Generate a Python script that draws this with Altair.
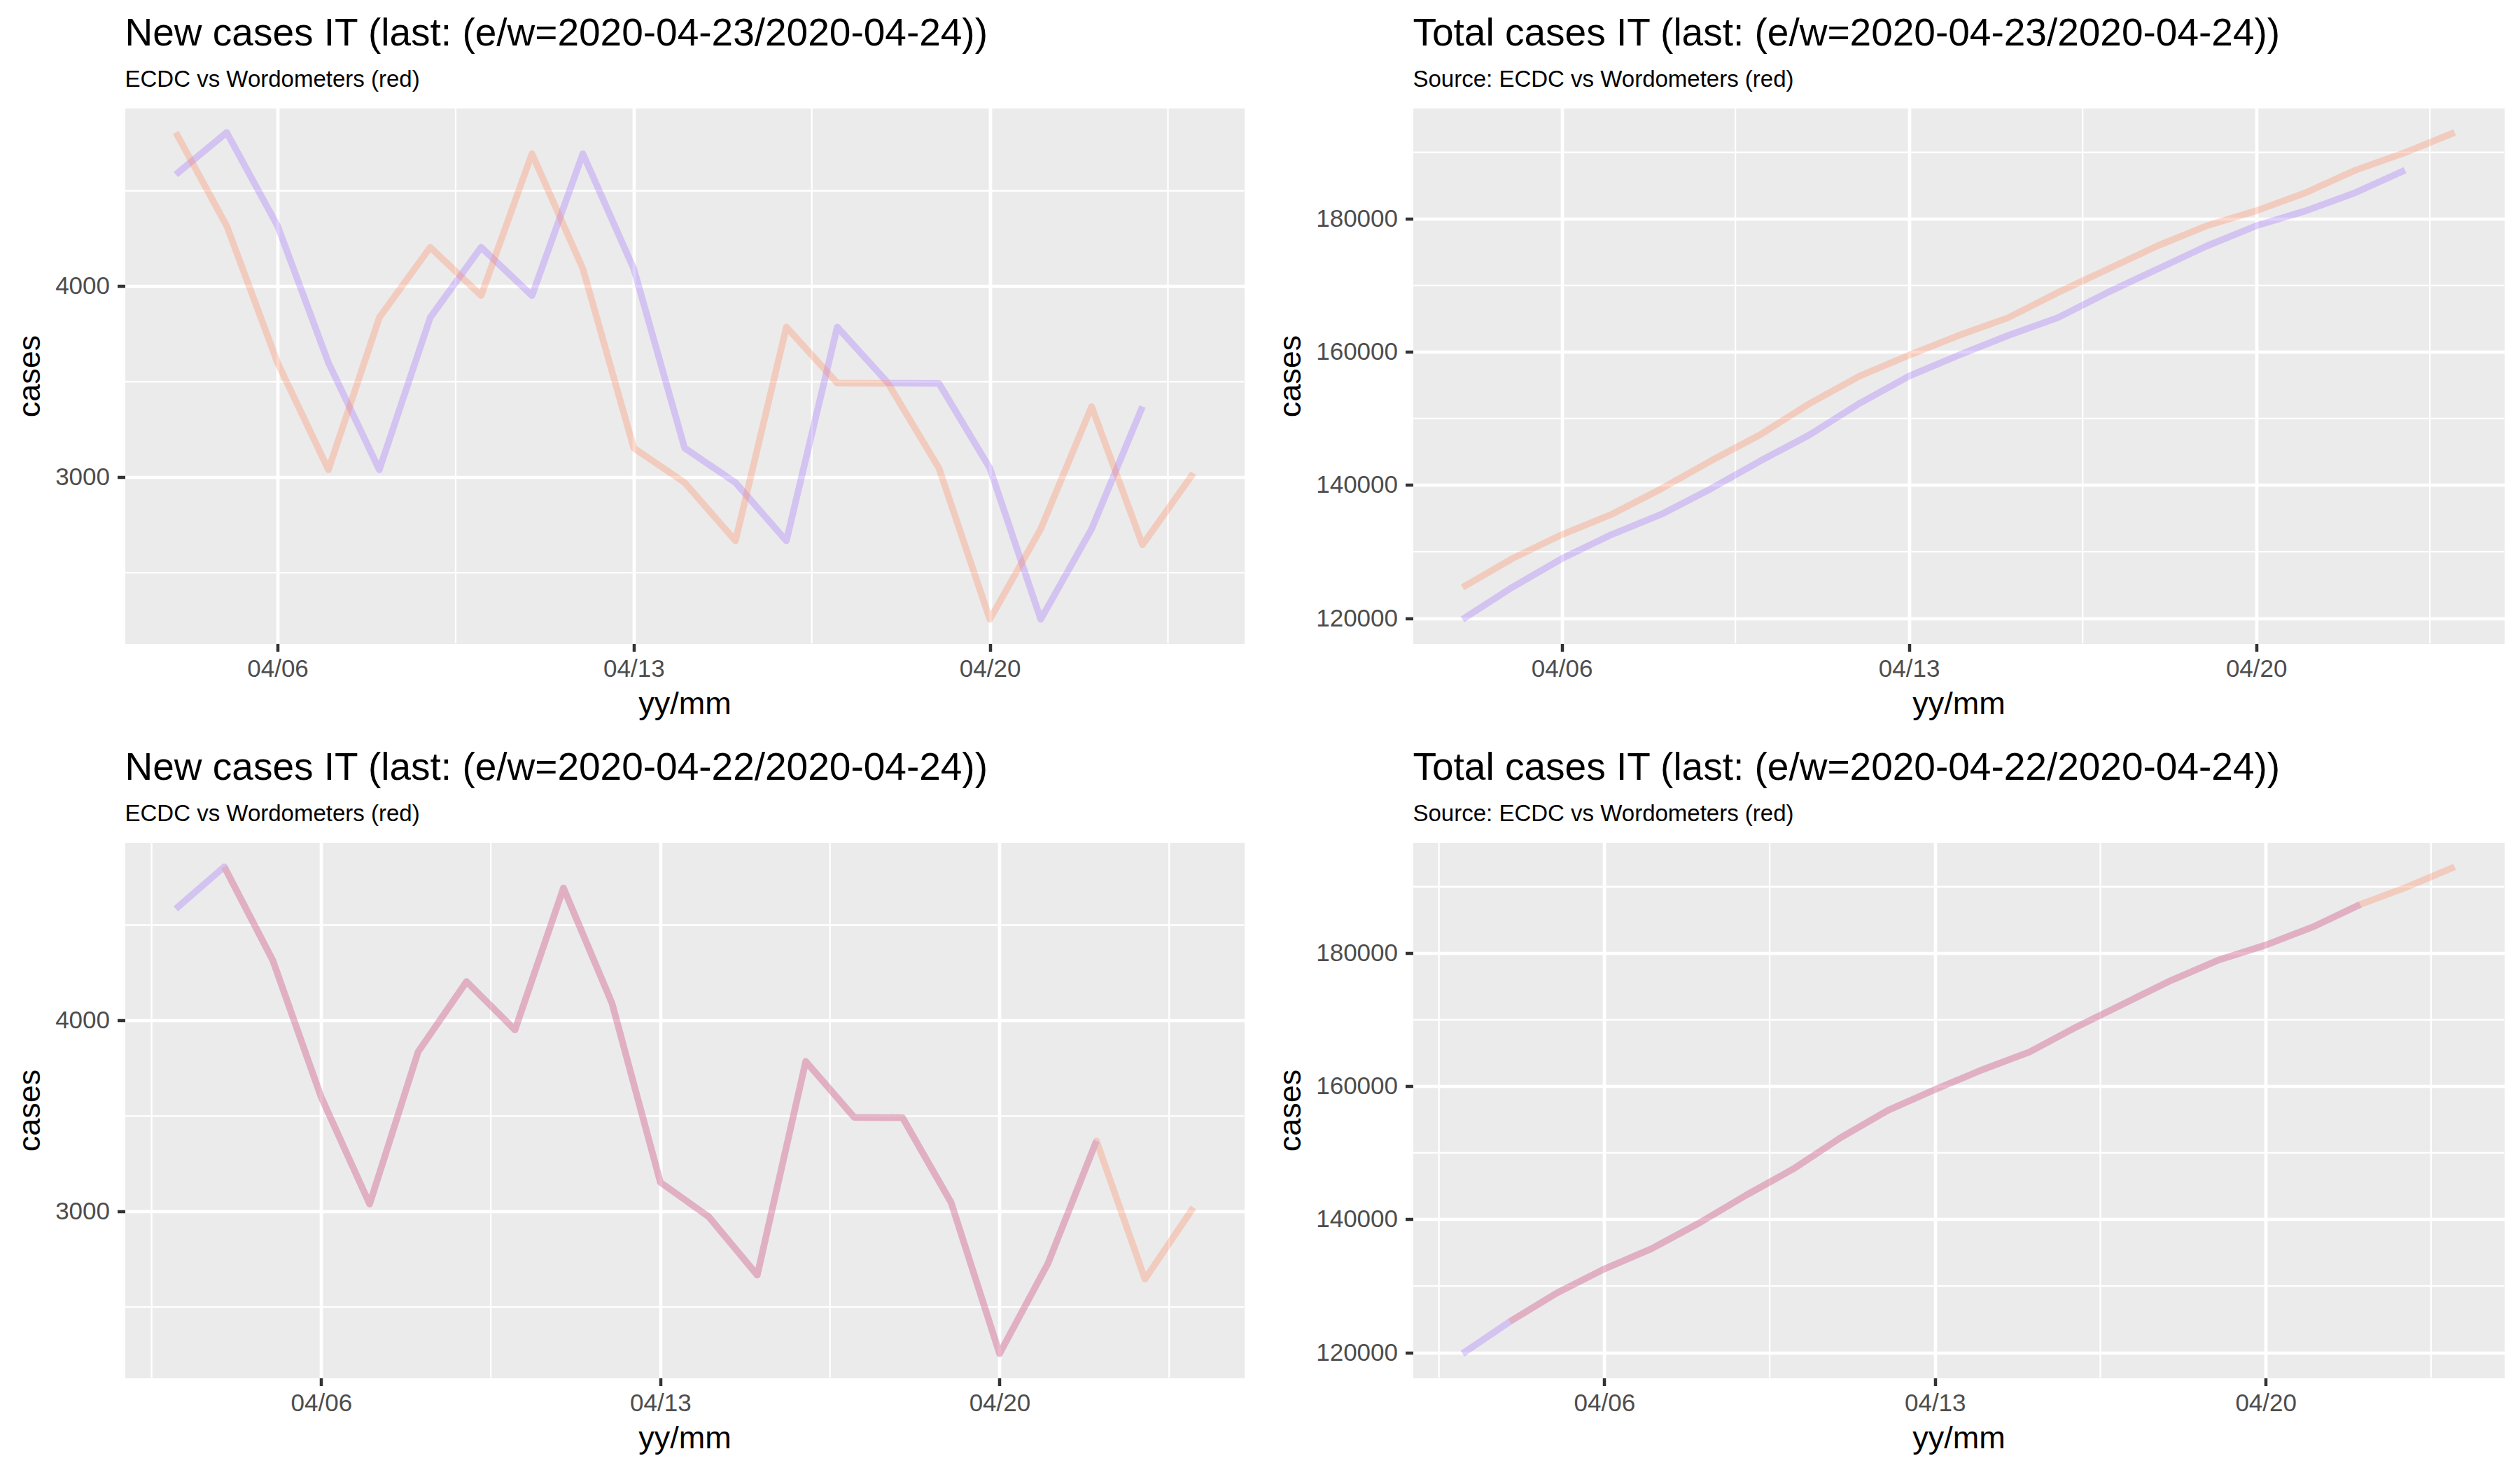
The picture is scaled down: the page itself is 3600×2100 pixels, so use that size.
import altair as alt
import pandas as pd

FONT = "Liberation Sans"
PURPLE = "#9B66FF"
ORANGE = "#FF8455"

# Worldometers (red) dates and values
wm_dates = ["2020-04-04", "2020-04-05", "2020-04-06", "2020-04-07", "2020-04-08",
            "2020-04-09", "2020-04-10", "2020-04-11", "2020-04-12", "2020-04-13",
            "2020-04-14", "2020-04-15", "2020-04-16", "2020-04-17", "2020-04-18",
            "2020-04-19", "2020-04-20", "2020-04-21", "2020-04-22", "2020-04-23",
            "2020-04-24"]
wm_new = [4805, 4316, 3599, 3039, 3836, 4204, 3951, 4694, 4092, 3153, 2972,
          2667, 3786, 3493, 3491, 3047, 2256, 2729, 3370, 2646, 3021]
wm_total = [124632, 128948, 132547, 135586, 139422, 143626, 147577, 152271,
            156363, 159516, 162488, 165155, 168941, 172434, 175925, 178972,
            181228, 183957, 187327, 189973, 192994]

# ECDC dates (two alignments) and values
ecdc_dates_a = ["2020-04-04", "2020-04-05", "2020-04-06", "2020-04-07", "2020-04-08",
                "2020-04-09", "2020-04-10", "2020-04-11", "2020-04-12", "2020-04-13",
                "2020-04-14", "2020-04-15", "2020-04-16", "2020-04-17", "2020-04-18",
                "2020-04-19", "2020-04-20", "2020-04-21", "2020-04-22", "2020-04-23"]
ecdc_dates_b = ["2020-04-03", "2020-04-04", "2020-04-05", "2020-04-06", "2020-04-07",
                "2020-04-08", "2020-04-09", "2020-04-10", "2020-04-11", "2020-04-12",
                "2020-04-13", "2020-04-14", "2020-04-15", "2020-04-16", "2020-04-17",
                "2020-04-18", "2020-04-19", "2020-04-20", "2020-04-21", "2020-04-22"]
ecdc_new = [4585, 4805, 4316, 3599, 3039, 3836, 4204, 3951, 4694, 4092, 3153,
            2972, 2667, 3786, 3493, 3491, 3047, 2256, 2729, 3370]
ecdc_total = [119827, 124632, 128948, 132547, 135586, 139422, 143626, 147577,
              152271, 156363, 159516, 162488, 165155, 168941, 172434, 175925,
              178972, 181228, 183957, 187327]

x_major = ["2020-04-06", "2020-04-13", "2020-04-20"]
x_minor = ["2020-04-02T12:00:00Z", "2020-04-09T12:00:00Z",
           "2020-04-16T12:00:00Z", "2020-04-23T12:00:00Z"]
new_major = [3000, 4000]
new_minor = [2500, 3500, 4500]
tot_major = [120000, 140000, 160000, 180000]
tot_minor = [130000, 150000, 170000, 190000]

titles = [
    ("New cases IT (last: (e/w=2020-04-23/2020-04-24))", "ECDC vs Wordometers (red)"),
    ("Total cases IT (last: (e/w=2020-04-23/2020-04-24))", "Source: ECDC vs Wordometers (red)"),
    ("New cases IT (last: (e/w=2020-04-22/2020-04-24))", "ECDC vs Wordometers (red)"),
    ("Total cases IT (last: (e/w=2020-04-22/2020-04-24))", "Source: ECDC vs Wordometers (red)"),
]

PANEL_H = 765


def ms(s):
    t = pd.Timestamp(s)
    if t.tzinfo is None:
        t = t.tz_localize("UTC")
    return t.value // 10**6


def panel(title, subtitle, e_dates, e_vals, w_dates, w_vals, y_major, y_minor, width):
    ts = [ms(d) for d in e_dates + w_dates]
    t0, t1 = min(ts), max(ts)
    tp = 0.05 * (t1 - t0)
    xs = alt.Scale(type="utc", domain=[t0 - tp, t1 + tp], nice=False)
    vs = e_vals + w_vals
    v0, v1 = min(vs), max(vs)
    vp = 0.05 * (v1 - v0)
    ys = alt.Scale(domain=[v0 - vp, v1 + vp], nice=False, zero=False)

    xvals = []
    for d in x_major:
        t = pd.Timestamp(d)
        xvals.append(alt.DateTime(year=t.year, month=t.month, date=t.day, utc=True))
    xaxis = alt.Axis(title="yy/mm", values=xvals, format="%m/%d",
                     labelPadding=8.4, titlePadding=10)
    yaxis = alt.Axis(title="cases", values=y_major, format="d",
                     labelPadding=11, titlePadding=13.5)

    vrule = alt.Chart(pd.DataFrame({"date": x_minor})).mark_rule(
        color="white", strokeWidth=2.3, clip=True
    ).encode(x=alt.X("date:T", scale=xs, axis=xaxis))
    hrule = alt.Chart(pd.DataFrame({"cases": y_minor})).mark_rule(
        color="white", strokeWidth=2.3, clip=True
    ).encode(y=alt.Y("cases:Q", scale=ys, axis=yaxis))

    e_line = alt.Chart(pd.DataFrame({"date": e_dates, "cases": e_vals})).mark_line(
        color=PURPLE, strokeOpacity=0.3, strokeWidth=9.5, strokeJoin="round", strokeCap="butt"
    ).encode(x=alt.X("date:T", scale=xs, axis=xaxis),
             y=alt.Y("cases:Q", scale=ys, axis=yaxis))
    w_line = alt.Chart(pd.DataFrame({"date": w_dates, "cases": w_vals})).mark_line(
        color=ORANGE, strokeOpacity=0.3, strokeWidth=9.5, strokeJoin="round", strokeCap="butt"
    ).encode(x=alt.X("date:T", scale=xs, axis=xaxis),
             y=alt.Y("cases:Q", scale=ys, axis=yaxis))

    return alt.layer(vrule, hrule, e_line, w_line).properties(
        width=width, height=PANEL_H,
        title=alt.TitleParams(
            text=title, subtitle=subtitle, anchor="start", frame="group",
            font=FONT, subtitleFont=FONT, fontSize=55, subtitleFontSize=33,
            fontWeight="normal", subtitleFontWeight="normal",
            color="black", subtitleColor="black", offset=23, subtitlePadding=20.5,
        ),
    )


p1 = panel(titles[0][0], titles[0][1], ecdc_dates_a, ecdc_new, wm_dates, wm_new,
           new_major, new_minor, 1599)
p2 = panel(titles[1][0], titles[1][1], ecdc_dates_a, ecdc_total, wm_dates, wm_total,
           tot_major, tot_minor, 1559)
p3 = panel(titles[2][0], titles[2][1], ecdc_dates_b, ecdc_new, wm_dates, wm_new,
           new_major, new_minor, 1599)
p4 = panel(titles[3][0], titles[3][1], ecdc_dates_b, ecdc_total, wm_dates, wm_total,
           tot_major, tot_minor, 1559)

top = alt.hconcat(p1, p2, spacing=42)
bottom = alt.hconcat(p3, p4, spacing=42)

chart = alt.vconcat(top, bottom, spacing=40).properties(
    padding={"left": 11.5, "top": 12.5, "right": 0, "bottom": 0}
).configure(font=FONT).configure_view(
    fill="#EBEBEB", stroke="transparent"
).configure_axis(
    domain=False, grid=True, gridColor="white", gridWidth=4.7,
    tickColor="#333333", tickWidth=4.5, tickSize=11,
    labelColor="#4D4D4D", labelFontSize=35, labelFont=FONT,
    titleFontSize=45, titleFont=FONT, titleFontWeight="normal", titleColor="black",
)

chart.save("out.html", embed_options={"renderer": "svg", "actions": False})
